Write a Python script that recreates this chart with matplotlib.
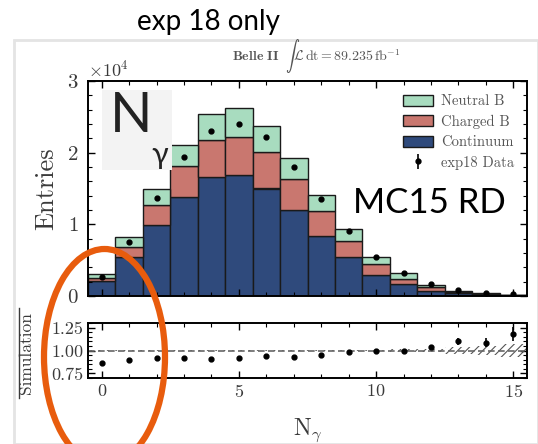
import numpy as np
import matplotlib
matplotlib.use("Agg")
import matplotlib.pyplot as plt
from matplotlib.patches import Ellipse, Rectangle
from matplotlib.ticker import MultipleLocator, ScalarFormatter

plt.rcParams["font.family"] = ["cmr10"]
plt.rcParams["mathtext.fontset"] = "cm"
plt.rcParams["axes.unicode_minus"] = False
plt.rcParams["axes.formatter.use_mathtext"] = True
plt.rcParams["hatch.linewidth"] = 0.8

# photon multiplicity bins and stacked MC yields
n_gamma = np.arange(16)
continuum = [2100, 5500, 9900, 13850, 16650, 16900, 15000, 12000, 8400, 5400, 2900, 1700, 700, 450, 250, 120]
charged_b = [450, 1400, 2800, 4250, 5100, 5300, 5100, 4300, 3500, 2300, 1500, 700, 500, 150, 80, 40]
neutral_b = [450, 1400, 2200, 3000, 3700, 4000, 3600, 3000, 2250, 1600, 1000, 800, 400, 100, 70, 40]
data_exp18 = [2600, 7470, 13650, 19330, 23060, 24000, 22150, 17970, 13490, 9130, 5400, 3180, 1660, 770, 434, 235]
mc_unc = [0.003, 0.003, 0.003, 0.003, 0.003, 0.003, 0.003, 0.004, 0.005, 0.006, 0.008, 0.012, 0.02, 0.035, 0.05, 0.075]

C_CONT = "#2f4a7c"
C_CHG = "#c9776f"
C_NEU = "#a8dcbf"
EDGE = "#1a1a1a"
TXT = "#3a3a3a"

W, H = 538, 444
fig = plt.figure(figsize=(W / 100, H / 100), dpi=100, facecolor="white")

def fx(px):
    return px / W

def fy(py):
    return 1 - py / H

ax = fig.add_axes([fx(88), fy(296), fx(527) - fx(88), fy(81) - fy(296)])
ax2 = fig.add_axes([fx(88), fy(378), fx(527) - fx(88), fy(323) - fy(378)])

cont = np.array(continuum)
chg = np.array(charged_b)
neu = np.array(neutral_b)
data = np.array(data_exp18, dtype=float)
total = cont + chg + neu

b1 = ax.bar(n_gamma, cont, width=1.0, color=C_CONT, edgecolor=EDGE, linewidth=1.0, label="Continuum")
b2 = ax.bar(n_gamma, chg, width=1.0, bottom=cont, color=C_CHG, edgecolor=EDGE, linewidth=1.0, label="Charged B")
b3 = ax.bar(n_gamma, neu, width=1.0, bottom=cont + chg, color=C_NEU, edgecolor=EDGE, linewidth=1.0, label="Neutral B")
eb = ax.errorbar(n_gamma, data, yerr=np.sqrt(data), fmt="o", color="black", ms=3.5, elinewidth=1.2,
                 capsize=0, label="exp18 Data")

ax.set_xlim(-0.5, 15.5)
ax.set_ylim(0, 30000)
ax.yaxis.set_major_locator(MultipleLocator(10000))
ax.yaxis.set_minor_locator(MultipleLocator(2000))
ax.xaxis.set_major_locator(MultipleLocator(5))
ax.xaxis.set_minor_locator(MultipleLocator(1))
fmt = ScalarFormatter(useMathText=True)
fmt.set_powerlimits((0, 0))
ax.yaxis.set_major_formatter(fmt)
ax.yaxis.get_offset_text().set_fontsize(13)
ax.yaxis.get_offset_text().set_color(TXT)
ax.tick_params(axis="both", which="both", direction="in", top=True, right=True, labelbottom=False)
ax.tick_params(axis="both", which="major", length=5, width=1.0)
ax.tick_params(axis="both", which="minor", length=3, width=0.8)
ax.tick_params(axis="y", labelsize=15, labelcolor=TXT, pad=7)
for s in ax.spines.values():
    s.set_linewidth(1.4)
ax.set_ylabel("Entries", fontsize=19, color=TXT, labelpad=6)

leg = ax.legend(handles=[b3, b2, b1, eb], loc="upper right", bbox_to_anchor=(0.995, 0.985),
                frameon=False, fontsize=10.5, handlelength=2.0, handleheight=0.8,
                labelspacing=0.45, handletextpad=0.6, borderaxespad=0.3)
for t in leg.get_texts():
    t.set_color("#555555")

# ratio panel
ratio = data / total
ratio_err = np.sqrt(data) / total
band = np.array(mc_unc)
ax2.bar(n_gamma, 2 * band, bottom=1 - band, width=1.0, fill=False, hatch="////",
        edgecolor="#555555", linewidth=0)
ax2.axhline(1.0, color="#666666", linestyle=(0, (4, 2)), linewidth=1.2)
ax2.errorbar(n_gamma, ratio, yerr=ratio_err, fmt="o", color="black", ms=3.5, elinewidth=1.2, capsize=0)
ax2.set_xlim(-0.5, 15.5)
ax2.set_ylim(0.7, 1.3)
ax2.set_yticks([0.75, 1.0, 1.25])
ax2.set_yticklabels(["0.75", "1.00", "1.25"])
ax2.yaxis.set_minor_locator(MultipleLocator(0.05))
ax2.xaxis.set_major_locator(MultipleLocator(5))
ax2.xaxis.set_minor_locator(MultipleLocator(1))
ax2.tick_params(axis="both", which="both", direction="in", top=True, right=True)
ax2.tick_params(axis="both", which="major", length=5, width=1.0)
ax2.tick_params(axis="both", which="minor", length=3, width=0.8)
ax2.tick_params(axis="both", labelsize=13, labelcolor=TXT)
for s in ax2.spines.values():
    s.set_linewidth(1.4)
ax2.set_xlabel(r"$\mathrm{N}_\gamma$", fontsize=17, color=TXT, labelpad=12)

# ratio axis label (denominator of Data/Simulation)
fig.text(fx(26), fy(353), "Simulation", rotation=90, ha="center", va="center", fontsize=12.5, color=TXT)
fig.add_artist(plt.Line2D([fx(18.5), fx(18.5)], [fy(308), fy(398)], transform=fig.transFigure,
                          color=TXT, linewidth=1.0))

fig.text(fx(316), fy(56), r"$\mathbf{Belle\ II}\ \ \int\mathcal{L}\,\mathrm{dt} = 89.235\,\mathrm{fb}^{-1}$",
         ha="center", va="center", fontsize=10, color="#555555")

# slide annotations
fig.add_artist(Rectangle((fx(14), fy(444)), fx(538) - fx(14), fy(40) - fy(444), transform=fig.transFigure,
                         facecolor="none", edgecolor="#e4e4e4", linewidth=2.0))
fig.add_artist(Rectangle((fx(102), fy(170)), fx(172) - fx(102), fy(90) - fy(170), transform=fig.transFigure,
                         facecolor="#f3f3f3", edgecolor="none"))
fig.text(fx(131), fy(117), "N", ha="center", va="center", fontsize=40, family="Lato", color="#222222")
fig.text(fx(160), fy(155), "γ", ha="center", va="center", fontsize=22, family="Lato", color="#222222")
fig.text(fx(429), fy(203), "MC15 RD", ha="center", va="center", fontsize=25, family="Lato", color="black")
fig.text(fx(208), fy(22), "exp 18 only", ha="center", va="center", fontsize=20, family="Lato", color="black")

fig.add_artist(Ellipse((fx(104.5), fy(357)), fx(121), 216 / H, transform=fig.transFigure,
                       facecolor="none", edgecolor="#e85c0d", linewidth=4.5, clip_on=False))

fig.savefig("out.png", dpi=100, facecolor="white")
